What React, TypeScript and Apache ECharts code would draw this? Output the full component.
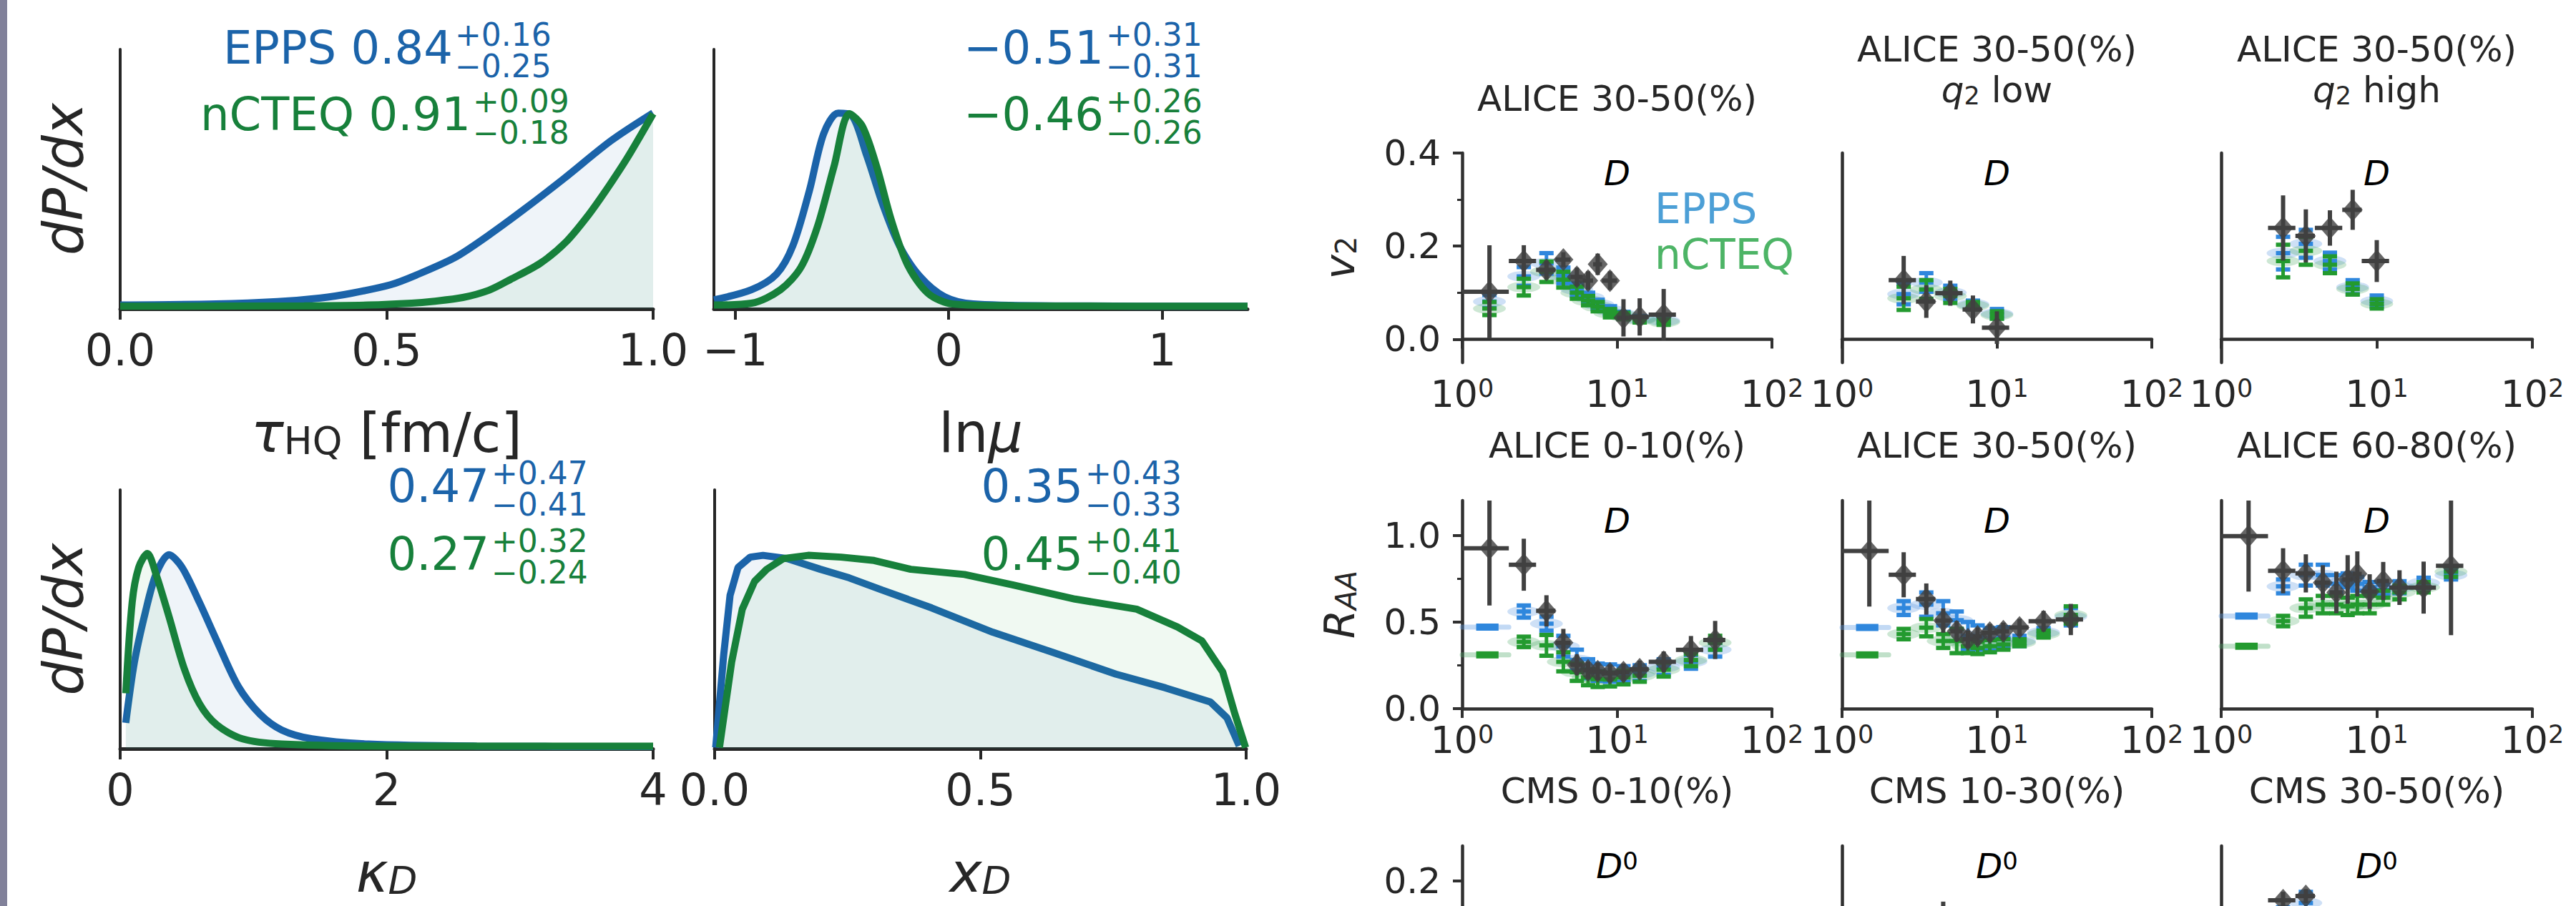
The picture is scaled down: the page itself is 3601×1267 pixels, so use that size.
import React, { useEffect, useRef } from 'react';
import * as echarts from 'echarts';

const FONT = '"DejaVu Sans", sans-serif';
const INK = '#262626';
const AXIS_R = '#303030';
const DATA_C = '#404040';
const EPPS_LINE = '#1b63a9';
const NCTEQ_LINE = '#17803b';
const EPPS_FILL = 'rgba(27,99,169,0.07)';
const NCTEQ_FILL = 'rgba(60,180,90,0.08)';
const EPPS_BAR = '#2f87dd';
const NCTEQ_BAR = '#239a2f';
const EPPS_VIOLIN = 'rgba(95,155,225,0.38)';
const NCTEQ_VIOLIN = 'rgba(80,170,105,0.36)';
const EPPS_LEG = '#4c9fd6';
const NCTEQ_LEG = '#4db466';

// ---------- Left: posterior densities [x, dP/dx] (normalised to panel height) ----------
const tauEpps = [[0, 0.015], [0.18, 0.019], [0.295, 0.028], [0.376, 0.042], [0.433, 0.06], [0.507, 0.093], [0.555, 0.13], [0.628, 0.198], [0.686, 0.276], [0.751, 0.373], [0.832, 0.501], [0.921, 0.648], [1.0, 0.755]];
const tauNcteq = [[0, 0.01], [0.345, 0.012], [0.466, 0.015], [0.547, 0.022], [0.587, 0.029], [0.643, 0.044], [0.692, 0.072], [0.732, 0.113], [0.789, 0.177], [0.837, 0.259], [0.878, 0.36], [0.91, 0.452], [0.951, 0.58], [1.0, 0.752]];
const lnmuEpps = [[-1.1, 0.035], [-0.924, 0.074], [-0.807, 0.134], [-0.73, 0.244], [-0.653, 0.455], [-0.586, 0.675], [-0.518, 0.754], [-0.46, 0.749], [-0.385, 0.593], [-0.308, 0.4], [-0.231, 0.244], [-0.135, 0.125], [-0.02, 0.047], [0.114, 0.019], [0.5, 0.012], [1.4, 0.01]];
const lnmuNcteq = [[-1.1, 0.015], [-0.924, 0.022], [-0.788, 0.074], [-0.692, 0.161], [-0.615, 0.317], [-0.538, 0.547], [-0.465, 0.752], [-0.404, 0.703], [-0.337, 0.547], [-0.27, 0.345], [-0.193, 0.17], [-0.097, 0.06], [0.018, 0.019], [0.306, 0.012], [1.4, 0.01]];
const kappaEpps = [[0.042, 0.1], [0.107, 0.335], [0.188, 0.525], [0.269, 0.674], [0.366, 0.749], [0.465, 0.7], [0.595, 0.565], [0.725, 0.417], [0.887, 0.24], [1.05, 0.133], [1.213, 0.072], [1.44, 0.038], [1.865, 0.018], [2.678, 0.01], [4.0, 0.008]];
const kappaNcteq = [[0.042, 0.214], [0.09, 0.565], [0.139, 0.7], [0.204, 0.754], [0.269, 0.674], [0.366, 0.511], [0.481, 0.309], [0.595, 0.174], [0.725, 0.092], [0.918, 0.038], [1.213, 0.018], [2.03, 0.01], [4.0, 0.01]];
const xdEpps = [[0.002, 0.004], [0.017, 0.362], [0.029, 0.592], [0.044, 0.7], [0.067, 0.74], [0.091, 0.747], [0.137, 0.734], [0.199, 0.693], [0.253, 0.66], [0.315, 0.613], [0.408, 0.544], [0.523, 0.45], [0.639, 0.37], [0.755, 0.288], [0.848, 0.235], [0.933, 0.18], [0.964, 0.119], [0.987, 0.011]];
const xdNcteq = [[0.009, 0.004], [0.032, 0.335], [0.052, 0.539], [0.075, 0.646], [0.098, 0.693], [0.129, 0.734], [0.176, 0.747], [0.238, 0.74], [0.3, 0.727], [0.369, 0.693], [0.47, 0.673], [0.562, 0.632], [0.678, 0.578], [0.794, 0.539], [0.871, 0.47], [0.917, 0.416], [0.956, 0.296], [0.979, 0.133], [0.999, 0.004]];

const tauStats = [['EPPS 0.84', '+0.16', '−0.25'], ['nCTEQ 0.91', '+0.09', '−0.18']];
const lnmuStats = [['−0.51', '+0.31', '−0.31'], ['−0.46', '+0.26', '−0.26']];
const kappaStats = [['0.47', '+0.47', '−0.41'], ['0.27', '+0.32', '−0.24']];
const xdStats = [['0.35', '+0.43', '−0.33'], ['0.45', '+0.41', '−0.40']];

const tauTicks = [0, 0.5, 1];
const lnmuTicks = [-1, 0, 1];
const kappaTicks = [0, 2, 4];
const xdTicks = [0, 0.5, 1];

// ---------- Right: ALICE D v2 30-50% ----------
const v2A_pt = [1.5, 2.5, 3.5, 4.5, 5.5, 6.5, 7.5, 9, 11, 14, 20];
const v2A_lo = [1, 2, 3, 4, 5, 6, 7, 8, 10, 12, 16];
const v2A_hi = [2, 3, 4, 5, 6, 7, 8, 10, 12, 16, 24];
const v2A_data = [0.102, 0.168, 0.149, 0.171, 0.134, 0.126, 0.161, 0.126, 0.046, 0.048, 0.053];
const v2A_err = [0.1, 0.034, 0.02, 0.016, 0.02, 0.02, 0.023, 0.02, 0.04, 0.04, 0.055];
const v2A_epps = [0.081, 0.135, 0.163, 0.137, 0.107, 0.09, 0.075, 0.062, 0.052, 0.044, 0.04];
const v2A_eppsErr = [0.014, 0.02, 0.022, 0.017, 0.013, 0.01, 0.01, 0.009, 0.007, 0.006, 0.006];
const v2A_ncteq = [0.066, 0.112, 0.145, 0.128, 0.1, 0.083, 0.07, 0.056, 0.05, 0.042, 0.037];
const v2A_ncteqErr = [0.014, 0.018, 0.022, 0.017, 0.013, 0.01, 0.01, 0.009, 0.007, 0.006, 0.006];

// ALICE D v2 30-50% with q2 selection
const q2_pt = [2.5, 3.5, 5, 7, 10];
const q2_lo = [2, 3, 4, 6, 8];
const q2_hi = [3, 4, 6, 8, 12];
const q2Low_data = [0.127, 0.081, 0.099, 0.064, 0.025];
const q2Low_err = [0.052, 0.035, 0.027, 0.03, 0.035];
const q2Low_epps = [0.097, 0.122, 0.1, 0.075, 0.055];
const q2Low_eppsErr = [0.022, 0.02, 0.015, 0.008, 0.01];
const q2Low_ncteq = [0.088, 0.107, 0.093, 0.072, 0.052];
const q2Low_ncteqErr = [0.025, 0.02, 0.015, 0.008, 0.008];
const q2High_data = [0.239, 0.222, 0.239, 0.278, 0.168];
const q2High_err = [0.07, 0.057, 0.038, 0.043, 0.045];
const q2High_epps = [0.185, 0.205, 0.168, 0.112, 0.082];
const q2High_eppsErr = [0.035, 0.03, 0.018, 0.015, 0.012];
const q2High_ncteq = [0.168, 0.19, 0.16, 0.108, 0.076];
const q2High_ncteqErr = [0.035, 0.03, 0.018, 0.012, 0.01];

// ALICE D R_AA (first model entry = integrated low-pT band)
const raa_pt = [1.5, 2.5, 3.5, 4.5, 5.5, 6.5, 7.5, 9, 11, 14, 20, 30, 43];
const raa_lo = [1, 2, 3, 4, 5, 6, 7, 8, 10, 12, 16, 24, 36];
const raa_hi = [2, 3, 4, 5, 6, 7, 8, 10, 12, 16, 24, 36, 50];
const raa010_data = [0.925, 0.83, 0.564, 0.38, 0.253, 0.221, 0.215, 0.204, 0.21, 0.227, 0.27, 0.339, 0.396];
const raa010_err = [0.33, 0.15, 0.09, 0.08, 0.06, 0.05, 0.05, 0.05, 0.05, 0.05, 0.06, 0.08, 0.11];
const raa010_epps = [0.47, 0.56, 0.49, 0.36, 0.28, 0.23, 0.21, 0.205, 0.2, 0.205, 0.24, 0.27, 0.34];
const raa010_eppsErr = [0, 0.035, 0.04, 0.06, 0.06, 0.055, 0.05, 0.05, 0.045, 0.045, 0.045, 0.04, 0.04];
const raa010_ncteq = [0.31, 0.385, 0.365, 0.27, 0.21, 0.18, 0.17, 0.168, 0.18, 0.19, 0.225, 0.28, 0.38];
const raa010_ncteqErr = [0, 0.03, 0.06, 0.055, 0.05, 0.045, 0.045, 0.04, 0.04, 0.035, 0.04, 0.035, 0.04];

const raa3050_data = [0.909, 0.772, 0.632, 0.508, 0.446, 0.4, 0.417, 0.438, 0.446, 0.468, 0.504, 0.514];
const raa3050_err = [0.32, 0.13, 0.09, 0.07, 0.06, 0.05, 0.05, 0.05, 0.05, 0.05, 0.06, 0.09];
const raa3050_epps = [0.468, 0.58, 0.6, 0.55, 0.51, 0.42, 0.41, 0.4, 0.41, 0.39, 0.44, 0.53];
const raa3050_eppsErr = [0, 0.04, 0.07, 0.07, 0.05, 0.08, 0.07, 0.065, 0.06, 0.03, 0.025, 0.05];
const raa3050_ncteq = [0.31, 0.43, 0.467, 0.39, 0.39, 0.36, 0.35, 0.36, 0.37, 0.38, 0.43, 0.54];
const raa3050_ncteqErr = [0, 0.03, 0.05, 0.04, 0.07, 0.04, 0.035, 0.035, 0.03, 0.02, 0.02, 0.05];

const raa6080_data = [0.995, 0.795, 0.78, 0.727, 0.67, 0.745, 0.777, 0.675, 0.736, 0.698, 0.698, 0.824];
const raa6080_err = [0.32, 0.13, 0.11, 0.1, 0.12, 0.14, 0.13, 0.1, 0.11, 0.1, 0.15, 0.4];
const raa6080_epps = [0.534, 0.705, 0.77, 0.77, 0.72, 0.74, 0.72, 0.7, 0.685, 0.7, 0.725, 0.77];
const raa6080_eppsErr = [0, 0.04, 0.06, 0.06, 0.05, 0.04, 0.04, 0.03, 0.03, 0.035, 0.03, 0.025];
const raa6080_ncteq = [0.36, 0.505, 0.58, 0.6, 0.6, 0.59, 0.6, 0.6, 0.64, 0.67, 0.7, 0.79];
const raa6080_ncteqErr = [0, 0.03, 0.05, 0.05, 0.05, 0.05, 0.05, 0.05, 0.04, 0.04, 0.03, 0.03];

// CMS D0 v2 (only the upper part of this row is inside the picture)
const cms010_pt: number[] = [];
const cms1030_pt = [4.5];
const cms1030_lo = [4];
const cms1030_hi = [5];
const cms1030_data = [0.14];
const cms1030_err = [0.03];
const cms3050_pt = [2.5, 3.5];
const cms3050_lo = [2, 3];
const cms3050_hi = [3, 4];
const cms3050_data = [0.172, 0.178];
const cms3050_err = [0.012, 0.01];
const cms3050_epps = [0.15, 0.168];
const cms3050_eppsErr = [0.012, 0.016];

const xTickExp = (v: number) => Math.round(Math.log10(v));

// ---------- layout tables ----------
const leftPanels = [
  { box: [168, 69, 745, 363], xMin: 0, xMax: 1, ticks: tauTicks, dec: 1, name: '{i|τ}{s|HQ} [fm/c]', yName: true, epps: tauEpps, ncteq: tauNcteq, smooth: 0.3, stats: tauStats, statPos: [[633, 67], [658, 160]] },
  { box: [998, 69, 746, 363], xMin: -1.1, xMax: 1.4, ticks: lnmuTicks, dec: 0, name: 'ln{i|μ}', yName: false, epps: lnmuEpps, ncteq: lnmuNcteq, smooth: 0.3, stats: lnmuStats, statPos: [[1543, 67], [1543, 160]] },
  { box: [168, 685, 745, 362], xMin: 0, xMax: 4, ticks: kappaTicks, dec: 0, name: '{i|κ}{si|D}', yName: true, epps: kappaEpps, ncteq: kappaNcteq, smooth: 0.3, stats: kappaStats, statPos: [[684, 680], [684, 775]] },
  { box: [999, 685, 743, 362], xMin: 0, xMax: 1, ticks: xdTicks, dec: 1, name: '{i|x}{si|D}', yName: false, epps: xdEpps, ncteq: xdNcteq, smooth: 0, stats: xdStats, statPos: [[1514, 680], [1514, 775]] },
];

const colLeft = [2044, 2575, 3105];
const colWidth = [433, 433, 435];
const rowTop = [214, 700, 1183];
const rowHeight = [293, 291, 292];
const rowTitleY = [138, 623, 1106];
const rowSpec = [
  { min: -0.05, max: 0.4, ticks: [0, 0.2, 0.4], minor: [0.1, 0.3], name: '{i|v}{s|2}' },
  { min: 0, max: 1.2, ticks: [0, 0.5, 1.0], minor: [0.25, 0.75], name: '{i|R}{si|AA}' },
  { min: -0.05, max: 0.25, ticks: [0, 0.2], minor: [] as number[], name: '{i|v}{s|2}' },
];

const rightPanels = [
  { row: 0, col: 0, title: ['ALICE 30-50(%)'], tag: '{d|D}', pt: v2A_pt, lo: v2A_lo, hi: v2A_hi, data: v2A_data, err: v2A_err, epps: v2A_epps, eppsErr: v2A_eppsErr, ncteq: v2A_ncteq, ncteqErr: v2A_ncteqErr, dash: false },
  { row: 0, col: 1, title: ['ALICE 30-50(%)', '{i|q}{s|2} low'], tag: '{d|D}', pt: q2_pt, lo: q2_lo, hi: q2_hi, data: q2Low_data, err: q2Low_err, epps: q2Low_epps, eppsErr: q2Low_eppsErr, ncteq: q2Low_ncteq, ncteqErr: q2Low_ncteqErr, dash: false },
  { row: 0, col: 2, title: ['ALICE 30-50(%)', '{i|q}{s|2} high'], tag: '{d|D}', pt: q2_pt, lo: q2_lo, hi: q2_hi, data: q2High_data, err: q2High_err, epps: q2High_epps, eppsErr: q2High_eppsErr, ncteq: q2High_ncteq, ncteqErr: q2High_ncteqErr, dash: false },
  { row: 1, col: 0, title: ['ALICE 0-10(%)'], tag: '{d|D}', pt: raa_pt, lo: raa_lo, hi: raa_hi, data: raa010_data, err: raa010_err, epps: raa010_epps, eppsErr: raa010_eppsErr, ncteq: raa010_ncteq, ncteqErr: raa010_ncteqErr, dash: true },
  { row: 1, col: 1, title: ['ALICE 30-50(%)'], tag: '{d|D}', pt: raa_pt.slice(0, 12), lo: raa_lo.slice(0, 12), hi: raa_hi.slice(0, 12), data: raa3050_data, err: raa3050_err, epps: raa3050_epps, eppsErr: raa3050_eppsErr, ncteq: raa3050_ncteq, ncteqErr: raa3050_ncteqErr, dash: true },
  { row: 1, col: 2, title: ['ALICE 60-80(%)'], tag: '{d|D}', pt: raa_pt.slice(0, 12), lo: raa_lo.slice(0, 12), hi: raa_hi.slice(0, 12), data: raa6080_data, err: raa6080_err, epps: raa6080_epps, eppsErr: raa6080_eppsErr, ncteq: raa6080_ncteq, ncteqErr: raa6080_ncteqErr, dash: true },
  { row: 2, col: 0, title: ['CMS 0-10(%)'], tag: '{d|D}{sup|0}', pt: cms010_pt, lo: [] as number[], hi: [] as number[], data: [] as number[], err: [] as number[], epps: [] as number[], eppsErr: [] as number[], ncteq: [] as number[], ncteqErr: [] as number[], dash: false },
  { row: 2, col: 1, title: ['CMS 10-30(%)'], tag: '{d|D}{sup|0}', pt: cms1030_pt, lo: cms1030_lo, hi: cms1030_hi, data: cms1030_data, err: cms1030_err, epps: [] as number[], eppsErr: [] as number[], ncteq: [] as number[], ncteqErr: [] as number[], dash: false },
  { row: 2, col: 2, title: ['CMS 30-50(%)'], tag: '{d|D}{sup|0}', pt: cms3050_pt, lo: cms3050_lo, hi: cms3050_hi, data: cms3050_data, err: cms3050_err, epps: cms3050_epps, eppsErr: cms3050_eppsErr, ncteq: [] as number[], ncteqErr: [] as number[], dash: false },
];

function txt(x: number, y: number, text: string, size: number, color: string, align: string, extra: any = {}) {
  return {
    type: 'text', x, y, silent: true,
    style: { text, fontSize: size, fontFamily: FONT, fill: color, align, textAlign: align, verticalAlign: 'middle', textVerticalAlign: 'middle', ...extra },
  };
}

function modelSeries(name: string, g: number, items: number[][], color: string, pale: string) {
  return {
    type: 'custom', name, xAxisIndex: g, yAxisIndex: g, z: 3, silent: true,
    encode: { x: 0, y: 1 },
    data: items,
    renderItem: (_p: any, api: any) => {
      const x = api.value(0), y = api.value(1);
      const c = api.coord([x, y]);
      if (api.value(4) === 1) {
        const l = api.coord([api.value(5), y])[0];
        const r = api.coord([api.value(6), y])[0];
        const w = r - l;
        return {
          type: 'group', children: [
            { type: 'line', shape: { x1: l, y1: c[1], x2: r, y2: c[1] }, style: { stroke: pale, lineWidth: 7, lineCap: 'round' } },
            { type: 'line', shape: { x1: l + 0.3 * w, y1: c[1], x2: l + 0.78 * w, y2: c[1] }, style: { stroke: color, lineWidth: 10 } },
          ],
        };
      }
      const t = api.coord([x, api.value(3)])[1];
      const b = api.coord([x, api.value(2)])[1];
      const cap = 10;
      return {
        type: 'group', children: [
          { type: 'line', shape: { x1: c[0], y1: t, x2: c[0], y2: b }, style: { stroke: color, lineWidth: 5 } },
          { type: 'line', shape: { x1: c[0] - cap, y1: t, x2: c[0] + cap, y2: t }, style: { stroke: color, lineWidth: 6 } },
          { type: 'line', shape: { x1: c[0] - cap, y1: b, x2: c[0] + cap, y2: b }, style: { stroke: color, lineWidth: 6 } },
          { type: 'line', shape: { x1: c[0] - cap, y1: c[1], x2: c[0] + cap, y2: c[1] }, style: { stroke: color, lineWidth: 6 } },
        ],
      };
    },
  };
}

function buildOption() {
  const grid: any[] = [];
  const xAxis: any[] = [];
  const yAxis: any[] = [];
  const extraY: any[] = [];
  const series: any[] = [];
  const graphic: any[] = [];

  graphic.push({ type: 'rect', shape: { x: 0, y: 0, width: 10, height: 1267 }, style: { fill: '#81819a' }, silent: true });

  // ----- left posterior panels -----
  leftPanels.forEach((p, i) => {
    grid.push({ left: p.box[0], top: p.box[1], width: p.box[2], height: p.box[3], outerBoundsMode: 'none', containLabel: false });
    xAxis.push({
      type: 'value', gridIndex: i, min: p.xMin, max: p.xMax,
      axisLine: { show: true, onZero: false, lineStyle: { color: INK, width: 5 } },
      axisTick: { show: true, inside: false, length: 15, customValues: p.ticks, lineStyle: { color: INK, width: 4 } },
      axisLabel: {
        show: true, customValues: p.ticks, margin: 26, fontSize: 62, fontFamily: FONT, color: INK,
        formatter: (v: number) => (v < 0 ? '−' : '') + Math.abs(v).toFixed(p.dec),
      },
      splitLine: { show: false },
      name: p.name, nameLocation: 'middle', nameGap: 135,
      nameTextStyle: {
        fontSize: 76, fontFamily: FONT, color: INK,
        rich: {
          i: { fontSize: 76, fontFamily: FONT, fontStyle: 'italic', color: INK },
          s: { fontSize: 53, fontFamily: FONT, color: INK, verticalAlign: 'bottom', lineHeight: 53, padding: [40, 0, 0, 0] },
          si: { fontSize: 53, fontFamily: FONT, fontStyle: 'italic', color: INK, verticalAlign: 'bottom', lineHeight: 53, padding: [40, 0, 0, 0] },
        },
      },
    });
    yAxis.push({
      type: 'value', gridIndex: i, min: 0, max: 1,
      axisLine: { show: true, onZero: false, lineStyle: { color: INK, width: 4 } },
      axisTick: { show: false }, axisLabel: { show: false }, splitLine: { show: false },
      name: p.yName ? 'dP/dx' : '', nameLocation: 'middle', nameGap: 42,
      nameTextStyle: { fontSize: 76, fontFamily: FONT, fontStyle: 'italic', color: INK },
    });
    series.push({
      type: 'line', name: 'EPPS', xAxisIndex: i, yAxisIndex: i, data: p.epps, showSymbol: false, symbol: 'none',
      smooth: p.smooth, lineStyle: { color: EPPS_LINE, width: 10 }, itemStyle: { color: EPPS_LINE },
      areaStyle: { color: EPPS_FILL, opacity: 1 }, z: 2, silent: true,
    });
    series.push({
      type: 'line', name: 'nCTEQ', xAxisIndex: i, yAxisIndex: i, data: p.ncteq, showSymbol: false, symbol: 'none',
      smooth: p.smooth, lineStyle: { color: NCTEQ_LINE, width: 10 }, itemStyle: { color: NCTEQ_LINE },
      areaStyle: { color: NCTEQ_FILL, opacity: 1 }, z: 3, silent: true,
    });
    p.stats.forEach((s, k) => {
      const [xr, yc] = p.statPos[k];
      const color = k === 0 ? EPPS_LINE : NCTEQ_LINE;
      graphic.push(txt(xr, yc, s[0], 64, color, 'right'));
      graphic.push(txt(xr + 3, yc - 19, s[1], 44, color, 'left'));
      graphic.push(txt(xr + 3, yc + 25, s[2], 44, color, 'left'));
    });
  });

  // ----- right observable panels -----
  const richTitle = {
    i: { fontSize: 50, fontFamily: FONT, fontStyle: 'italic', fill: INK },
    s: { fontSize: 35, fontFamily: FONT, fill: INK, verticalAlign: 'bottom', lineHeight: 35, padding: [22, 0, 0, 0] },
  };
  const richTag = {
    d: { fontSize: 48, fontFamily: FONT, fontStyle: 'italic', fill: '#000' },
    sup: { fontSize: 34, fontFamily: FONT, fill: '#000', verticalAlign: 'top', lineHeight: 34 },
  };

  rightPanels.forEach((p) => {
    const g = grid.length;
    const rs = rowSpec[p.row];
    const cx = colLeft[p.col] + colWidth[p.col] / 2;
    grid.push({ left: colLeft[p.col], top: rowTop[p.row], width: colWidth[p.col], height: rowHeight[p.row], outerBoundsMode: 'none', containLabel: false });
    xAxis.push({
      type: 'log', logBase: 10, gridIndex: g, min: 1, max: 100,
      axisLine: { show: true, lineStyle: { color: AXIS_R, width: 4.5 } },
      axisTick: { show: true, inside: false, length: 13, lineStyle: { color: AXIS_R, width: 4 } },
      minorTick: { show: false },
      axisLabel: {
        show: true, margin: 18, fontSize: 52, fontFamily: FONT, color: INK, showMinLabel: true, showMaxLabel: true,
        formatter: (v: number) => '10{s|' + xTickExp(v) + '}',
        rich: { s: { fontSize: 35, fontFamily: FONT, color: INK, verticalAlign: 'top', lineHeight: 30 } },
      },
      splitLine: { show: false },
    });
    const first = p.col === 0;
    yAxis.push({
      type: 'value', gridIndex: g, min: rs.min, max: rs.max, position: 'left',
      axisLine: { show: true, onZero: false, lineStyle: { color: AXIS_R, width: 4.5 } },
      axisTick: { show: first, inside: false, length: 13, customValues: rs.ticks, lineStyle: { color: AXIS_R, width: 4 } },
      axisLabel: { show: first, customValues: rs.ticks, margin: 30, fontSize: 50, fontFamily: FONT, color: INK, formatter: (v: number) => v.toFixed(1) },
      splitLine: { show: false },
      name: first ? rs.name : '', nameLocation: 'middle', nameGap: 142,
      nameTextStyle: {
        fontSize: 56, fontFamily: FONT, color: INK,
        rich: {
          i: { fontSize: 58, fontFamily: FONT, fontStyle: 'italic', color: INK },
          s: { fontSize: 40, fontFamily: FONT, color: INK, verticalAlign: 'bottom', lineHeight: 40, padding: [22, 0, 0, 0] },
          si: { fontSize: 40, fontFamily: FONT, fontStyle: 'italic', color: INK, verticalAlign: 'bottom', lineHeight: 40, padding: [22, 0, 0, 0] },
        },
      },
    });
    if (first && rs.minor.length) {
      extraY.push({
        type: 'value', gridIndex: g, min: rs.min, max: rs.max, position: 'left', offset: 0,
        axisLine: { show: false, onZero: false },
        axisTick: { show: true, inside: false, length: 7, customValues: rs.minor, lineStyle: { color: AXIS_R, width: 3 } },
        axisLabel: { show: false, customValues: rs.minor },
        splitLine: { show: false },
      });
    }

    const ymax = rs.max;
    const violin = (vals: number[]) => p.pt.map((x, k) => [x, vals[k]]).filter((d, k) => k < vals.length && !(p.dash && k === 0));
    const modelItems = (vals: number[], errs: number[]) =>
      vals.map((v, k) => [p.pt[k], v, v - errs[k], Math.min(v + errs[k], ymax), p.dash && k === 0 ? 1 : 0, p.lo[k], p.hi[k]]);

    if (p.epps.length) {
      series.push({ type: 'scatter', name: 'EPPS', xAxisIndex: g, yAxisIndex: g, symbol: 'circle', symbolSize: [46, 15], itemStyle: { color: EPPS_VIOLIN }, data: violin(p.epps), z: 1, silent: true });
    }
    if (p.ncteq.length) {
      series.push({ type: 'scatter', name: 'nCTEQ', xAxisIndex: g, yAxisIndex: g, symbol: 'circle', symbolSize: [46, 15], itemStyle: { color: NCTEQ_VIOLIN }, data: violin(p.ncteq), z: 1, silent: true });
    }
    if (p.epps.length) series.push(modelSeries('EPPS', g, modelItems(p.epps, p.eppsErr), EPPS_BAR, EPPS_VIOLIN));
    if (p.ncteq.length) series.push(modelSeries('nCTEQ', g, modelItems(p.ncteq, p.ncteqErr), NCTEQ_BAR, NCTEQ_VIOLIN));

    if (p.data.length) {
      const items = p.pt.map((x, k) => [x, p.data[k], p.lo[k], p.hi[k], p.data[k] - p.err[k], Math.min(p.data[k] + p.err[k], ymax)]);
      series.push({
        type: 'custom', name: 'Data', xAxisIndex: g, yAxisIndex: g, z: 4, silent: true,
        encode: { x: 0, y: 1 }, data: items,
        renderItem: (_p: any, api: any) => {
          const x = api.value(0), y = api.value(1);
          const c = api.coord([x, y]);
          const l = api.coord([api.value(2), y])[0];
          const r = api.coord([api.value(3), y])[0];
          const b = api.coord([x, api.value(4)])[1];
          const t = api.coord([x, api.value(5)])[1];
          return {
            type: 'group', children: [
              { type: 'line', shape: { x1: l, y1: c[1], x2: r, y2: c[1] }, style: { stroke: DATA_C, lineWidth: 6 } },
              { type: 'line', shape: { x1: c[0], y1: b, x2: c[0], y2: t }, style: { stroke: DATA_C, lineWidth: 6 } },
            ],
          };
        },
      });
      series.push({
        type: 'scatter', name: 'Data', xAxisIndex: g, yAxisIndex: g, symbol: 'diamond', symbolSize: [28, 32],
        itemStyle: { color: DATA_C }, data: p.pt.map((x, k) => [x, p.data[k]]), z: 5, silent: true,
      });
    }

    // panel titles and particle tag
    if (p.title.length === 1) {
      graphic.push(txt(cx, rowTitleY[p.row], p.title[0], 50, INK, 'center'));
    } else {
      graphic.push(txt(cx, 69, p.title[0], 50, INK, 'center'));
      graphic.push(txt(cx, 126, p.title[1], 50, INK, 'center', { rich: richTitle }));
    }
    graphic.push(txt(cx, rowTop[p.row] + 28, p.tag, 48, '#000', 'center', { rich: richTag }));
  });

  return {
    animation: false,
    backgroundColor: '#ffffff',
    textStyle: { fontFamily: FONT },
    grid,
    xAxis,
    yAxis: yAxis.concat(extraY),
    series,
    graphic,
    legend: {
      show: true, selectedMode: false, orient: 'vertical', left: 2303, top: 258,
      icon: 'none', itemWidth: 0, itemHeight: 58, itemGap: 6,
      data: [
        { name: 'EPPS', textStyle: { color: EPPS_LEG } },
        { name: 'nCTEQ', textStyle: { color: NCTEQ_LEG } },
      ],
      textStyle: { fontSize: 58, fontFamily: FONT },
    },
  };
}

export default function App() {
  const ref = useRef<HTMLDivElement>(null);
  useEffect(() => {
    document.body.style.margin = '0';
    const chart = echarts.init(ref.current!, null, { renderer: 'svg', width: 3601, height: 1267 });
    chart.setOption(buildOption() as any);
    return () => chart.dispose();
  }, []);
  return <div ref={ref} style={{ width: 3601, height: 1267, background: '#fff', overflow: 'hidden' }} />;
}
